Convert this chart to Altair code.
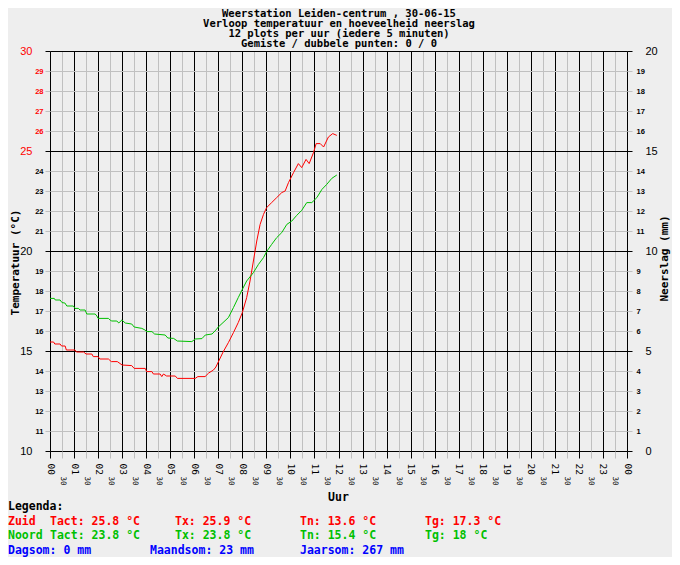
import altair as alt
import pandas as pd

# ---------------- data ----------------
zuid_uur = [0.0, 0.15, 0.2, 0.42, 0.48, 0.63, 0.68, 1.04, 1.1, 1.4, 1.5, 1.74, 1.8, 2.0, 2.07, 2.43,
            2.55, 2.8, 3.0, 3.4, 3.5, 3.96, 4.02, 4.24, 4.3, 4.58, 4.65, 4.72, 4.85, 5.21, 5.3, 6.04,
            6.15, 6.45, 6.6, 6.8, 6.9, 7.0, 7.2, 7.42, 7.63, 7.83, 8.0, 8.18, 8.32, 8.46, 8.6, 8.74,
            8.88, 9.01, 9.22, 9.43, 9.64, 9.78, 9.92, 10.13, 10.33, 10.47, 10.65, 10.78, 10.96, 11.07,
            11.24, 11.38, 11.58, 11.76, 11.93]
zuid_temp = [15.45, 15.45, 15.35, 15.35, 15.25, 15.25, 15.05, 15.05, 14.95, 14.95, 14.85, 14.85, 14.72,
             14.72, 14.6, 14.6, 14.47, 14.47, 14.3, 14.27, 14.13, 14.13, 13.97, 13.97, 13.85, 13.85,
             13.72, 13.85, 13.75, 13.75, 13.63, 13.63, 13.72, 13.72, 13.9, 14.05, 14.2, 14.45, 14.95,
             15.42, 15.92, 16.42, 16.92, 17.67, 18.5, 19.5, 20.5, 21.33, 21.83, 22.17, 22.42, 22.67,
             22.92, 23.0, 23.42, 23.92, 24.37, 24.17, 24.58, 24.37, 24.92, 25.37, 25.37, 25.2, 25.7,
             25.87, 25.78]

noord_uur = [0.0, 0.18, 0.22, 0.42, 0.5, 0.62, 0.7, 0.97, 1.04, 1.18, 1.25, 1.46, 1.53, 1.88, 1.95, 2.0,
             2.43, 2.5, 2.57, 2.78, 2.86, 2.99, 3.13, 3.4, 3.5, 3.82, 3.95, 4.03, 4.24, 4.35, 4.79, 4.9,
             5.14, 5.3, 5.9, 6.04, 6.32, 6.46, 6.74, 6.9, 7.0, 7.42, 7.63, 7.83, 8.0, 8.18, 8.46, 8.67,
             8.88, 9.01, 9.22, 9.43, 9.64, 9.85, 10.06, 10.26, 10.47, 10.68, 10.89, 11.1, 11.31, 11.51,
             11.72, 11.93]
noord_temp = [17.63, 17.63, 17.55, 17.55, 17.42, 17.4, 17.25, 17.25, 17.13, 17.13, 17.05, 17.05, 16.85,
              16.85, 16.75, 16.63, 16.63, 16.55, 16.5, 16.5, 16.4, 16.55, 16.4, 16.35, 16.2, 16.13,
              16.05, 15.97, 15.97, 15.85, 15.8, 15.65, 15.63, 15.5, 15.47, 15.6, 15.62, 15.8, 15.85,
              16.05, 16.2, 16.67, 17.17, 17.67, 18.08, 18.5, 18.92, 19.33, 19.67, 19.97, 20.33, 20.67,
              20.92, 21.33, 21.5, 21.78, 22.03, 22.42, 22.42, 22.67, 23.08, 23.33, 23.63, 23.8]

neerslag_uur = [0.0, 12.0]
neerslag_mm = [0.0, 0.0]

titel = ["Weerstation Leiden-centrum , 30-06-15",
         "Verloop temperatuur en hoeveelheid neerslag",
         "12 plots per uur (iedere 5 minuten)",
         "Gemiste / dubbele punten: 0 / 0"]

legenda = [
    ("Legenda:", "black", 0, 0),
    ("Zuid", "#ff0000", 0, 1), ("Tact: 25.8 °C", "#ff0000", 1, 1), ("Tx: 25.9 °C", "#ff0000", 2, 1),
    ("Tn: 13.6 °C", "#ff0000", 3, 1), ("Tg: 17.3 °C", "#ff0000", 4, 1),
    ("Noord", "#00c000", 0, 2), ("Tact: 23.8 °C", "#00c000", 1, 2), ("Tx: 23.8 °C", "#00c000", 2, 2),
    ("Tn: 15.4 °C", "#00c000", 3, 2), ("Tg: 18 °C", "#00c000", 4, 2),
    ("Dagsom: 0 mm", "#0000ff", 0, 3), ("Maandsom: 23 mm", "#0000ff", 5, 3), ("Jaarsom: 267 mm", "#0000ff", 3, 3),
]

# ---------------- build tables ----------------
df = pd.concat([
    pd.DataFrame({"uur": zuid_uur, "temp": zuid_temp, "serie": "Zuid"}),
    pd.DataFrame({"uur": noord_uur, "temp": noord_temp, "serie": "Noord"}),
])
df_n = pd.DataFrame({"uur": neerslag_uur, "mm": neerslag_mm})

GRAY = "#c0c0c0"
MONO = "DejaVu Sans Mono"
SANS = "Liberation Sans"

x_axis = alt.Axis(
    values=[i * 0.5 for i in range(49)],
    labelExpr="datum.value % 1 === 0 ? ((datum.value % 24) < 10 ? '0' : '') + (datum.value % 24) : '30'",
    labelAngle=90,
    labelFont=MONO,
    labelFontSize=alt.ExprRef("datum.value % 1 === 0 ? 9.5 : 7.5"),
    labelPadding=alt.ExprRef("datum.value % 1 === 0 ? 5 : 18"),
    labelColor="black",
    labelOverlap=False,
    labelFlush=False,
    tickSize=7,
    tickColor=alt.ExprRef("datum.value % 1 === 0 ? 'black' : '" + GRAY + "'"),
    gridColor=alt.ExprRef("datum.value % 1 === 0 ? 'black' : '" + GRAY + "'"),
    gridOpacity=1,
    grid=True,
    domain=False,
    title="Uur",
    titleFont=MONO,
    titleFontSize=11.5,
    titleFontWeight="bold",
    titleColor="black",
    titleX=288,
    titleY=46,
    titleAlign="center",
    titleBaseline="middle",
)

y_axis = alt.Axis(
    values=list(range(10, 31)),
    orient="left",
    labelFont=SANS,
    labelFontSize=alt.ExprRef("datum.value % 5 === 0 ? 11 : 7.5"),
    labelFontWeight=alt.ExprRef("datum.value % 5 === 0 ? 'normal' : 'bold'"),
    labelColor=alt.ExprRef("datum.value >= 25 ? '#ff0000' : 'black'"),
    labelPadding=alt.ExprRef("datum.value % 5 === 0 ? 13 : 2"),
    labelOverlap=False,
    labelFlush=False,
    tickSize=5,
    tickColor=alt.ExprRef("datum.value % 5 === 0 ? 'black' : '" + GRAY + "'"),
    gridColor=alt.ExprRef("datum.value % 5 === 0 ? 'black' : '" + GRAY + "'"),
    gridOpacity=1,
    grid=True,
    domain=False,
    title="Temperatuur (°C)",
    titleFont=MONO,
    titleFontSize=11,
    titleFontWeight="bold",
    titleColor="black",
    titleAngle=270,
    titleX=-35,
    titleY=211,
    titleAlign="center",
    titleBaseline="middle",
)

y2_axis = alt.Axis(
    values=list(range(0, 21)),
    orient="right",
    labelFont=SANS,
    labelFontSize=alt.ExprRef("datum.value % 5 === 0 ? 11 : 7.5"),
    labelFontWeight=alt.ExprRef("datum.value % 5 === 0 ? 'normal' : 'bold'"),
    labelColor="black",
    labelPadding=alt.ExprRef("datum.value % 5 === 0 ? 13 : 4"),
    labelOverlap=False,
    labelFlush=False,
    tickSize=5,
    tickColor=alt.ExprRef("datum.value % 5 === 0 ? 'black' : '" + GRAY + "'"),
    grid=False,
    domain=False,
    title="Neerslag (mm)",
    titleFont=MONO,
    titleFontSize=11,
    titleFontWeight="bold",
    titleColor="black",
    titleAngle=270,
    titleX=37,
    titleY=207,
    titleAlign="center",
    titleBaseline="middle",
)

x_enc = alt.X("uur:Q", scale=alt.Scale(domain=[0, 24], nice=False, zero=False), axis=x_axis)

lines = alt.Chart(df).mark_line(strokeWidth=1, interpolate="linear").encode(
    x=x_enc,
    y=alt.Y("temp:Q", scale=alt.Scale(domain=[10, 30], nice=False, zero=False), axis=y_axis),
    color=alt.Color("serie:N", scale=alt.Scale(domain=["Zuid", "Noord"], range=["#ff0000", "#00c000"]),
                    legend=None),
    detail="serie:N",
)

neerslag = alt.Chart(df_n).mark_line(opacity=0).encode(
    x=x_enc,
    y=alt.Y("mm:Q", scale=alt.Scale(domain=[0, 20], nice=False), axis=y2_axis),
)

one = alt.Data(values=[{"a": 1}])

texts = []
for i, t in enumerate(titel):
    texts.append(alt.Chart(one).mark_text(
        font=MONO, fontSize=10.5, fontWeight="bold", color="black", align="center", baseline="middle"
    ).encode(x=alt.value(289), y=alt.value(-37.5 + 10.25 * i), text=alt.value(t)))

col_x = [-42, 0, 125, 250, 375, 100]
row_y = [456, 470.5, 485, 499.5]
for t, c, col, row in legenda:
    texts.append(alt.Chart(one).mark_text(
        font=MONO, fontSize=11.5, fontWeight="bold", color=c, align="left", baseline="middle"
    ).encode(x=alt.value(col_x[col]), y=alt.value(row_y[row]), text=alt.value(t)))

temp_layers = alt.layer(lines, *texts)

chart = alt.layer(temp_layers, neerslag).resolve_scale(y="independent").properties(
    width=577,
    height=400,
    padding={"left": 42, "top": 43, "right": 45, "bottom": 106},
    autosize=alt.AutoSizeParams(type="none"),
    background="#eeeeee",
).configure_view(strokeWidth=0, fill="#eeeeee")

chart.save("out.html", embed_options={"renderer": "svg", "actions": False})
